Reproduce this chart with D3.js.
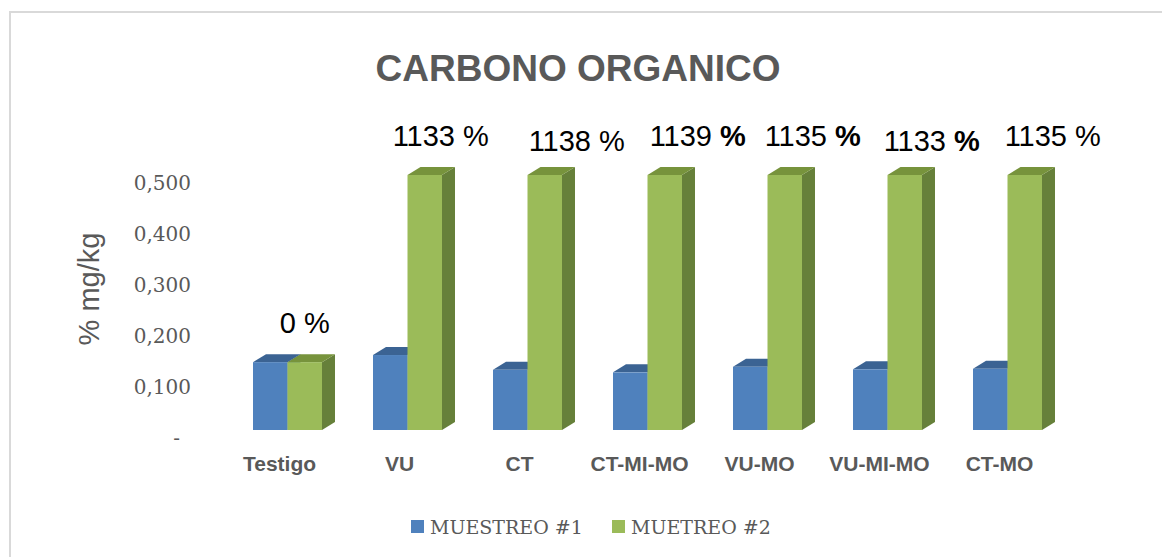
<!DOCTYPE html>
<html>
<head>
<meta charset="utf-8">
<script src="https://cdn.jsdelivr.net/npm/d3@7"></script>
<style>
  body { margin: 0; background: #fff; }
  svg { display: block; }
</style>
</head>
<body>
<div id="chart"></div>
<script>
const categories = ["Testigo", "VU", "CT", "CT-MI-MO", "VU-MO", "VU-MI-MO", "CT-MO"];
const seriesNames = ["MUESTREO #1", "MUETREO #2"];
const muestreo1 = [0.133, 0.147, 0.118, 0.113, 0.124, 0.119, 0.120];
const muestreo2 = [0.133, 0.500, 0.500, 0.500, 0.500, 0.500, 0.500];
const yTicks = [0, 0.1, 0.2, 0.3, 0.4, 0.5];
const pctLabels = ["0", "1133", "1138", "1139", "1135", "1133", "1135"];
const pctBold = [false, false, false, true, true, true, false];
// hand-placed label nudges, as in the original sheet
const labelDx = [0, 16, 32, 33, 28, 27, 28];
const labelDy = [0, 0, 5, 0, 0, 5, 0];

const width = 1162, height = 557;
const colors = {
  front: ["#4f81bd", "#9bbb59"],
  top: ["#3b6393", "#77933c"],
  side: ["#3a5f8c", "#66803a"]
};
const depth = { dx: 13, dy: -8 };

const svg = d3.select("#chart").append("svg")
  .attr("width", width).attr("height", height);

// chart frame
svg.append("path")
  .attr("d", "M10,570 L10,12 L1175,12")
  .attr("fill", "none").attr("stroke", "#d9d9d9").attr("stroke-width", 2);

svg.append("text")
  .attr("x", 578).attr("y", 81)
  .attr("text-anchor", "middle")
  .attr("font-family", "Liberation Sans, Arial, sans-serif")
  .attr("font-weight", "bold").attr("font-size", 37)
  .attr("fill", "#595959")
  .text("CARBONO ORGANICO");

const x0 = d3.scaleBand().domain(categories).range([227.5, 1067.5]);
const x1 = d3.scaleBand().domain([0, 1]).range([25.5, 94.5]);
const y = d3.scaleLinear().domain([0, 0.5]).range([430, 175]);

// y axis labels
const fmt = v => v === 0 ? "-" : d3.format(".3f")(v).replace(".", ",");
svg.append("g").selectAll("text").data(yTicks).join("text")
  .attr("x", v => v === 0 ? 180 : 191)
  .attr("y", v => y(v) + 8)
  .attr("dy", "0.35em")
  .attr("text-anchor", "end")
  .attr("font-family", "DejaVu Serif, serif")
  .attr("font-size", 20)
  .attr("fill", "#595959")
  .text(fmt);

svg.append("text")
  .attr("transform", "translate(99,289) rotate(-90)")
  .attr("text-anchor", "middle")
  .attr("font-family", "Liberation Sans, Arial, sans-serif")
  .attr("font-size", 29)
  .attr("fill", "#595959")
  .text("% mg/kg");

// 3d bars
const bars = [];
categories.forEach((c, i) => {
  [muestreo1[i], muestreo2[i]].forEach((v, s) => {
    bars.push({ cat: c, s, v, i });
  });
});

const g = svg.append("g");
const bar = g.selectAll("g.bar").data(bars).join("g").attr("class", "bar");

bar.append("path")
  .attr("fill", d => colors.side[d.s])
  .attr("d", d => {
    const xr = x0(d.cat) + x1(d.s) + x1.bandwidth();
    const yt = y(d.v), yb = y(0);
    return `M${xr},${yb}L${xr},${yt}L${xr + depth.dx},${yt + depth.dy}L${xr + depth.dx},${yb + depth.dy}Z`;
  });
bar.append("path")
  .attr("fill", d => colors.top[d.s])
  .attr("d", d => {
    const xl = x0(d.cat) + x1(d.s), xr = xl + x1.bandwidth();
    const yt = y(d.v);
    return `M${xl},${yt}L${xr},${yt}L${xr + depth.dx},${yt + depth.dy}L${xl + depth.dx},${yt + depth.dy}Z`;
  });
bar.append("rect")
  .attr("x", d => x0(d.cat) + x1(d.s))
  .attr("y", d => y(d.v))
  .attr("width", x1.bandwidth())
  .attr("height", d => y(0) - y(d.v))
  .attr("fill", d => colors.front[d.s]);

// category labels
svg.append("g").selectAll("text").data(categories).join("text")
  .attr("x", c => x0(c) + x0.bandwidth() / 2 - 8)
  .attr("y", 471)
  .attr("text-anchor", "middle")
  .attr("font-family", "Liberation Sans, Arial, sans-serif")
  .attr("font-weight", "bold").attr("font-size", 21)
  .attr("fill", "#595959")
  .text(c => c);

// percentage labels above green bars
const pct = svg.append("g").selectAll("text").data(categories).join("text")
  .attr("x", (c, i) => x0(c) + x1(1) + x1.bandwidth() / 2 + labelDx[i])
  .attr("y", (c, i) => y(muestreo2[i]) - 29 + labelDy[i])
  .attr("text-anchor", "middle")
  .attr("font-family", "Liberation Sans, Arial, sans-serif")
  .attr("font-size", 29)
  .attr("fill", "#000");
pct.append("tspan").text((c, i) => pctLabels[i] + " ");
pct.append("tspan")
  .attr("font-weight", (c, i) => pctBold[i] ? "bold" : "normal")
  .text("%");

// legend
const legendX = [411, 612];
const lg = svg.append("g").selectAll("g").data(seriesNames).join("g")
  .attr("transform", (d, i) => `translate(${legendX[i]},520)`);
lg.append("rect").attr("width", 13).attr("height", 13)
  .attr("fill", (d, i) => colors.front[i]);
lg.append("text")
  .attr("x", 19).attr("y", 7).attr("dy", "0.35em")
  .attr("font-family", "DejaVu Serif, serif")
  .attr("font-size", 19)
  .attr("fill", "#595959")
  .text(d => d);
</script>
</body>
</html>
